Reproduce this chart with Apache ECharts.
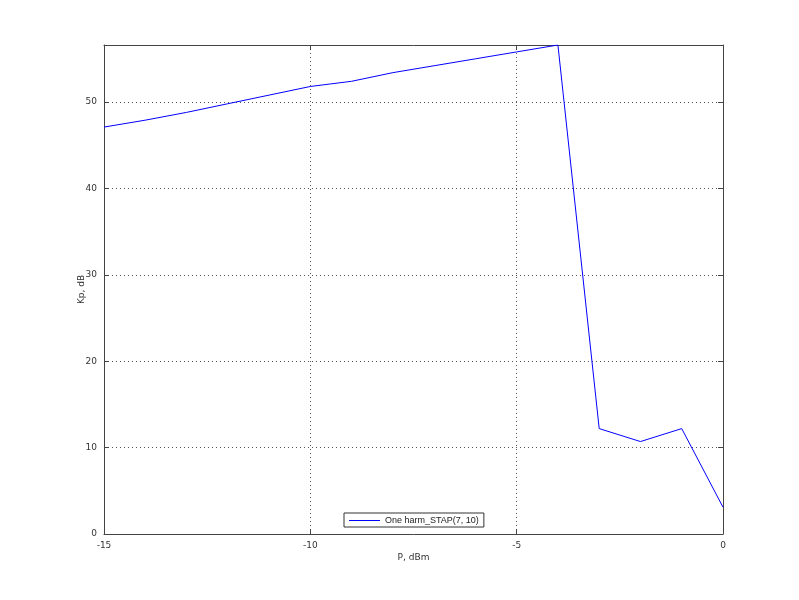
<!DOCTYPE html>
<html>
<head>
<meta charset="utf-8">
<script src="https://cdn.jsdelivr.net/npm/echarts@6/dist/echarts.min.js"></script>
<style>html,body{margin:0;padding:0;background:#fff}#c{width:799px;height:600px}</style>
</head>
<body>
<div id="c"></div>
<script>
var xValues = [-15, -14, -13, -12, -11, -10, -9, -8, -7, -6, -5, -4, -3, -2, -1, 0];
var kpValues = [47.1, 47.9, 48.8, 49.8, 50.8, 51.8, 52.4, 53.4, 54.2, 55.0, 55.8, 56.6, 12.2, 10.7, 12.2, 3.1];
var seriesName = 'One harm_STAP(7, 10)';
var xTicks = [-15, -10, -5, 0];
var yTicks = [0, 10, 20, 30, 40, 50];

var chart = echarts.init(document.getElementById('c'), null, {renderer: 'canvas'});
var font = {fontFamily: 'DejaVu Sans', fontSize: 9, color: '#333'};
var data = xValues.map(function (x, i) { return [x, kpValues[i]]; });
var yMax = Math.max.apply(null, kpValues);

function yFmt(v) { return yTicks.indexOf(Math.round(v * 1000) / 1000) >= 0 ? String(v) : ''; }

chart.setOption({
  animation: false,
  backgroundColor: '#fff',
  grid: {left: 104, right: 76, top: 45, bottom: 66, show: false},
  legend: {
    data: [seriesName],
    left: 344, top: 513,
    orient: 'horizontal',
    backgroundColor: '#fff',
    borderColor: '#333', borderWidth: 1,
    padding: [3, 5, 2, 5],
    itemWidth: 31, itemHeight: 1, itemGap: 4,
    icon: 'rect',
    itemStyle: {color: '#0000ff', borderWidth: 0},
    textStyle: {fontFamily: 'Liberation Sans', fontSize: 9, color: '#222'}
  },
  xAxis: [{
    type: 'value', min: -15, max: 0, interval: 5,
    name: 'P, dBm', nameLocation: 'middle', nameGap: 19, nameMoveOverlap: false,
    nameTextStyle: font,
    axisLine: {show: true, onZero: false, lineStyle: {color: '#444', width: 1}},
    axisTick: {show: true, inside: true, length: 5, lineStyle: {color: '#444'}},
    axisLabel: Object.assign({margin: 7}, font),
    splitLine: {show: true, showMinLine: false, showMaxLine: false, lineStyle: {color: '#555', type: [1, 3], width: 1}}
  }, {
    type: 'value', min: -15, max: 0, interval: 5, position: 'top',
    axisLine: {show: true, onZero: false, lineStyle: {color: '#444', width: 1}},
    axisTick: {show: true, inside: true, length: 5, lineStyle: {color: '#444'}},
    axisLabel: {show: false}, splitLine: {show: false}
  }],
  yAxis: [{
    type: 'value', min: 0, max: yMax, interval: 10,
    name: 'Kp, dB', nameLocation: 'middle', nameGap: 18, nameMoveOverlap: false,
    nameTextStyle: font,
    axisLine: {show: true, onZero: false, lineStyle: {color: '#444', width: 1}},
    axisTick: {show: true, inside: true, length: 5, lineStyle: {color: '#444'}},
    axisLabel: Object.assign({margin: 7, formatter: yFmt, showMaxLabel: false}, font),
    splitLine: {show: true, showMinLine: false, showMaxLine: false, lineStyle: {color: '#555', type: [1, 3], width: 1}}
  }, {
    type: 'value', min: 0, max: yMax, interval: 10, position: 'right',
    axisLine: {show: true, onZero: false, lineStyle: {color: '#444', width: 1}},
    axisTick: {show: true, inside: true, length: 5, lineStyle: {color: '#444'}},
    axisLabel: {show: false}, splitLine: {show: false}
  }],
  series: [{
    name: seriesName,
    type: 'line',
    data: data,
    showSymbol: false,
    symbol: 'none',
    lineStyle: {color: '#0000ff', width: 1},
    itemStyle: {color: '#0000ff'}
  }]
});
</script>
</body>
</html>
